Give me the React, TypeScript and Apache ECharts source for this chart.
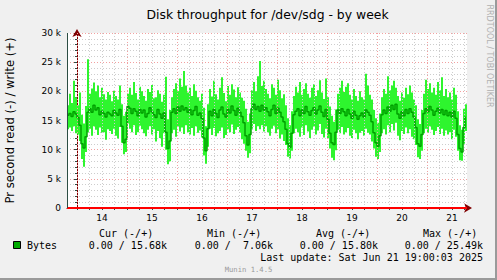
import React, { useEffect, useRef } from 'react';
import * as echarts from 'echarts';

// x axis: hours relative to Jun 14 2025 00:00, one value every 0.96 h
const startHour = -4.8;
const endHour = 187.2;
const stepHours = 0.96;

const dayLabels = ['14', '15', '16', '17', '18', '19', '20', '21'];
const dayNoonHours = [12, 36, 60, 84, 108, 132, 156, 180];
const midnightHours = [0, 24, 48, 72, 96, 120, 144, 168];
const sixHourLines = [6, 12, 18, 30, 36, 42, 54, 60, 66, 78, 84, 90, 102, 108, 114, 126, 132, 138, 150, 156, 162, 174, 180, 186];
const sixHourTicks = [0, 6, 12, 18, 24, 30, 36, 42, 48, 54, 60, 66, 72, 78, 84, 90, 96, 102, 108, 114, 120, 126, 132, 138, 144, 150, 156, 162, 168, 174, 180, 186];

// values in k (bytes per second, write)
const avgValues = [
  15.9, 16.2, 15.7, 16.5, 16.1, 15.5, 14.2, 11.0, 10.3, 12.2,
  16.4, 17.0, 16.4, 17.6, 16.8, 17.2, 16.0, 16.6, 16.2, 15.6,
  16.4, 16.1, 15.8, 16.7, 16.3, 15.9, 16.9, 14.0, 11.2, 11.8,
  17.4, 17.1, 16.2, 17.0, 16.6, 15.8, 16.9, 16.3, 16.8, 15.6,
  16.2, 17.2, 16.5, 16.0, 15.5, 16.9, 16.1, 15.4, 16.3, 13.0,
  10.2, 11.5, 16.4, 17.0, 16.2, 17.3, 16.6, 17.5, 16.8, 17.2,
  16.4, 16.9, 16.0, 16.7, 17.4, 15.9, 16.3, 15.4, 12.0, 9.8,
  13.6, 16.6, 15.8, 16.9, 16.2, 15.5, 16.8, 17.3, 16.1, 15.6,
  16.9, 16.3, 17.5, 16.7, 15.9, 17.1, 16.4, 15.7, 14.6, 12.4,
  10.8, 12.6, 17.0, 17.8, 16.9, 17.4, 16.6, 17.6, 16.8, 17.2,
  16.5, 15.8, 16.9, 17.6, 16.2, 17.1, 16.4, 15.6, 14.8, 13.5,
  11.0, 10.4, 12.8, 16.0, 16.6, 17.0, 15.8, 16.8, 16.2, 17.4,
  16.5, 15.9, 16.7, 17.2, 16.1, 16.8, 17.5, 16.4, 15.7, 16.9,
  15.2, 12.8, 11.2, 10.9, 13.0, 16.8, 16.2, 17.0, 16.5, 15.8,
  16.9, 16.1, 15.4, 16.6, 15.9, 15.2, 15.8, 16.3, 15.6, 16.8,
  16.4, 15.9, 14.8, 12.9, 11.2, 10.6, 12.4, 16.0, 16.8, 16.2,
  17.3, 16.6, 17.6, 16.9, 17.8, 16.1, 15.4, 16.5, 15.8, 16.9,
  16.2, 17.0, 16.4, 15.6, 13.8, 11.0, 10.6, 12.6, 16.2, 17.0,
  16.5, 17.4, 16.8, 15.9, 16.6, 17.1, 16.3, 16.9, 16.0, 16.7,
  15.8, 16.4, 15.6, 16.6, 15.4, 12.6, 10.2, 9.6, 13.8, 15.7,
];

const minValues = [
  13.5, 13.8, 13.2, 14.0, 12.8, 12.6, 11.5, 8.4, 7.06, 9.6,
  13.0, 13.6, 12.4, 14.0, 13.4, 12.5, 13.8, 12.9, 13.0, 11.7,
  13.5, 13.2, 12.7, 13.6, 12.4, 11.9, 13.9, 11.2, 9.2, 9.6,
  14.5, 13.6, 13.0, 14.2, 12.5, 13.0, 14.1, 13.5, 12.8, 12.3,
  13.4, 14.0, 12.6, 13.5, 11.4, 13.2, 12.0, 10.5, 12.8, 10.0,
  7.5, 8.0, 12.8, 13.4, 12.2, 14.0, 13.1, 13.8, 12.7, 14.2,
  13.0, 12.6, 13.7, 12.4, 14.0, 12.9, 13.3, 12.1, 9.0, 7.6,
  10.5, 13.6, 12.5, 13.7, 12.3, 12.8, 13.2, 13.8, 12.0, 12.5,
  13.5, 13.0, 14.3, 12.7, 13.4, 13.9, 12.9, 11.8, 11.0, 9.8,
  8.6, 9.4, 13.6, 14.4, 13.2, 14.0, 13.5, 14.2, 13.1, 14.0,
  13.0, 12.4, 13.6, 14.1, 12.8, 13.5, 11.9, 12.6, 11.5, 10.8,
  8.8, 8.5, 9.8, 12.8, 13.6, 13.0, 12.2, 13.8, 12.5, 14.2,
  13.1, 12.0, 13.4, 14.0, 12.6, 13.3, 14.4, 12.7, 12.1, 13.6,
  12.0, 10.2, 8.6, 8.2, 9.9, 13.4, 12.8, 13.9, 12.6, 13.0,
  13.7, 12.4, 12.0, 13.4, 12.8, 11.8, 12.9, 13.2, 12.4, 13.6,
  12.9, 12.6, 11.4, 10.2, 8.8, 8.4, 9.6, 12.8, 13.5, 12.6,
  14.2, 13.0, 14.4, 13.3, 14.6, 12.4, 11.6, 13.2, 12.7, 13.8,
  12.8, 13.5, 12.2, 11.8, 10.8, 8.7, 8.4, 9.8, 12.8, 13.6,
  12.9, 14.0, 13.4, 12.5, 13.2, 13.9, 12.7, 13.6, 12.4, 13.3,
  12.6, 13.0, 11.8, 13.4, 12.2, 9.8, 8.2, 8.1, 11.0, 13.2,
];

const maxValues = [
  17.6, 19.6, 18.0, 21.8, 19.0, 17.6, 19.8, 16.0, 14.5, 17.5,
  25.49, 19.6, 20.5, 21.5, 20.0, 21.0, 19.0, 20.6, 19.5, 18.6,
  19.9, 19.4, 18.3, 20.1, 19.2, 18.6, 21.0, 17.8, 15.8, 16.5,
  19.6, 20.6, 19.4, 21.6, 19.7, 18.6, 20.8, 20.0, 19.2, 18.4,
  20.4, 19.9, 21.1, 18.8, 19.0, 20.2, 19.6, 18.2, 19.4, 22.5,
  15.2, 16.8, 19.0, 20.4, 21.4, 20.0, 22.2, 20.8, 23.5, 21.0,
  19.8, 20.6, 19.2, 21.2, 20.1, 19.0, 18.4, 19.6, 17.2, 14.0,
  17.8, 20.4, 19.1, 21.8, 19.5, 18.6, 20.6, 22.4, 19.7, 18.3,
  20.9, 19.4, 21.2, 20.3, 19.0, 20.7, 19.8, 18.9, 18.4, 17.0,
  14.8, 16.2, 20.2, 21.6, 20.0, 22.6, 25.2, 20.9, 21.8, 20.4,
  19.6, 18.8, 21.2, 20.6, 19.4, 22.0, 20.2, 18.8, 19.5, 17.6,
  15.4, 14.2, 16.6, 19.2, 20.8, 19.8, 21.6, 19.4, 20.4, 21.4,
  19.6, 18.9, 20.6, 21.2, 19.2, 20.2, 21.9, 19.8, 18.7, 22.2,
  19.0, 17.4, 15.8, 14.8, 16.9, 19.6, 20.6, 21.8, 19.9, 20.8,
  21.4, 19.4, 18.6, 20.4, 19.2, 18.4, 20.0, 19.0, 18.6, 23.0,
  21.0, 19.4, 18.6, 16.8, 15.4, 14.6, 16.2, 19.0, 20.4, 19.6,
  22.6, 20.2, 21.0, 21.8, 20.6, 19.2, 18.4, 19.8, 18.9, 20.6,
  19.5, 21.0, 19.8, 18.6, 17.6, 15.2, 14.4, 16.8, 19.6, 22.0,
  20.4, 21.4, 19.8, 20.6, 19.4, 21.6, 20.2, 22.4, 19.2, 20.4,
  19.0, 19.8, 18.6, 20.6, 19.4, 16.6, 14.2, 13.4, 17.0, 17.8,
];

const legendHeaders = ['Cur (-/+)', 'Min (-/+)', 'Avg (-/+)', 'Max (-/+)'];
const legendValues = ['0.00 / 15.68k', '0.00 /  7.06k', '0.00 / 15.80k', '0.00 / 25.49k'];
const seriesName = 'Bytes';
const titleText = 'Disk throughput for /dev/sdg - by week';
const yAxisName = 'Pr second read (-) / write (+)';
const lastUpdate = 'Last update: Sat Jun 21 19:00:03 2025';
const version = 'Munin 1.4.5';
const sideText = 'RRDTOOL / TOBI OETIKER';

const SANS = 'DejaVu Sans, sans-serif';
const MONO = 'DejaVu Sans Mono, monospace';

function txt(text: string, x: number, y: number, font: string, align: string, fill = '#000') {
  return {
    type: 'text',
    x,
    y,
    silent: true,
    style: { text, font, fill, textAlign: align, align, textVerticalAlign: 'middle', verticalAlign: 'middle' },
  };
}

export default function App() {
  const ref = useRef<HTMLDivElement>(null);

  useEffect(() => {
    if (!ref.current) return;
    const chart = echarts.init(ref.current, undefined, { renderer: 'svg' });

    const xs = avgValues.map((_, i) => startHour + i * stepHours);
    const bandData = maxValues.map((v, i) => [xs[i], minValues[i], v]);
    const avgData = avgValues.map((v, i) => [xs[i], v]);

    const headerX = [99, 207, 316, 423];
    const valueRight = [167, 273, 378, 483];

    const option: any = {
      animation: false,
      backgroundColor: '#f0f0f0',
      grid: {
        left: 67,
        right: 30,
        top: 33,
        bottom: 72,
        show: true,
        backgroundColor: '#ffffff',
        borderWidth: 0,
        containLabel: false,
        outerBoundsMode: 'none',
      },
      xAxis: {
        type: 'value',
        min: startHour,
        max: endHour,
        axisLine: {
          show: true,
          onZero: false,
          lineStyle: { color: '#800000', width: 1 },
          symbol: ['none', 'arrow'],
          symbolSize: [7, 8],
          symbolOffset: [0, 5],
        },
        axisTick: { show: true, customValues: sixHourTicks, length: 2, lineStyle: { color: '#2c4d43' } },
        axisLabel: {
          customValues: dayNoonHours,
          formatter: (v: number) => {
            const k = dayNoonHours.indexOf(Math.round(v));
            return k >= 0 ? dayLabels[k] : '';
          },
          fontFamily: SANS,
          fontSize: 9,
          color: '#000',
          margin: 5,
        },
        splitLine: { show: false },
      },
      yAxis: {
        type: 'value',
        min: 0,
        max: 30,
        interval: 5,
        axisLine: {
          show: true,
          lineStyle: { color: '#800000', width: 1 },
          symbol: ['none', 'arrow'],
          symbolSize: [7, 8],
          symbolOffset: [0, 4],
        },
        axisTick: { show: true, length: 3, lineStyle: { color: '#2c4d43' } },
        minorTick: { show: true, splitNumber: 5, length: 2, lineStyle: { color: '#2c4d43' } },
        axisLabel: {
          formatter: (v: number) => (v === 0 ? '0' : v + ' k'),
          fontFamily: SANS,
          fontSize: 9,
          color: '#000',
          margin: 6,
        },
        splitLine: { show: true, lineStyle: { color: '#f2a0a0', type: [1, 2], width: 1 } },
        minorSplitLine: { show: true, lineStyle: { color: '#cdcdcd', type: [1, 2], width: 1 } },
        name: yAxisName,
        nameLocation: 'middle',
        nameRotate: 90,
        nameGap: 51,
        nameMoveOverlap: false,
        nameTextStyle: { fontFamily: SANS, fontSize: 11.6, color: '#000' },
      },
      series: [
        {
          type: 'line',
          name: 'grid',
          data: [],
          z: 1,
          silent: true,
          markLine: {
            silent: true,
            symbol: ['none', 'none'],
            label: { show: false },
            emphasis: { disabled: true },
            data: [
              ...sixHourLines.map((h) => ({ xAxis: h, lineStyle: { color: '#cdcdcd', type: [1, 2], width: 1 } })),
              ...midnightHours.map((h) => ({ xAxis: h, lineStyle: { color: '#f2a0a0', type: [1, 2], width: 1 } })),
            ],
          },
        },
        {
          type: 'custom',
          name: 'range',
          data: bandData,
          encode: { x: 0, y: [1, 2] },
          z: 2,
          silent: true,
          renderItem: (params: any, api: any) => {
            const x0 = api.value(0);
            const lo = api.value(1);
            const hi = api.value(2);
            const p1 = api.coord([x0, hi]);
            const p2 = api.coord([x0 + stepHours, lo]);
            return {
              type: 'rect',
              shape: { x: p1[0], y: p1[1], width: p2[0] - p1[0], height: p2[1] - p1[1] },
              style: { fill: '#2ef52e' },
            };
          },
        },
        {
          type: 'line',
          name: seriesName,
          data: avgData,
          step: 'end',
          symbol: 'none',
          lineStyle: { color: '#00a000', width: 1.5 },
          z: 3,
          silent: true,
        },
        {
          type: 'line',
          name: 'axes',
          data: [],
          z: 5,
          silent: true,
          markLine: {
            silent: true,
            symbol: ['none', 'none'],
            label: { show: false },
            emphasis: { disabled: true },
            data: [
              { yAxis: 0, lineStyle: { color: '#ff0000', type: 'solid', width: 2 } },
              { xAxis: startHour, lineStyle: { color: '#2c4d43', type: 'solid', width: 1 } },
            ],
          },
        },
      ],
      graphic: [
        { type: 'rect', silent: true, shape: { x: 0, y: 278, width: 497, height: 2 }, style: { fill: '#9a9a9a' } },
        { type: 'rect', silent: true, shape: { x: 495, y: 0, width: 2, height: 280 }, style: { fill: '#9a9a9a' } },
        txt(titleText, 267.5, 14, `12.4px ${SANS}`, 'center'),
        {
          type: 'text',
          x: 489,
          y: 56,
          rotation: -Math.PI / 2,
          silent: true,
          style: {
            text: sideText,
            font: `8px ${SANS}`,
            fill: '#b0b0b0',
            textAlign: 'center',
            align: 'center',
            textVerticalAlign: 'middle',
            verticalAlign: 'middle',
          },
        },
        ...legendHeaders.map((h, i) => txt(h, headerX[i], 233, `10px ${MONO}`, 'left')),
        ...legendValues.map((v, i) => txt(v, valueRight[i], 245, `10px ${MONO}`, 'right')),
        { type: 'rect', silent: true, shape: { x: 13.5, y: 241.5, width: 7, height: 7 }, style: { fill: '#00aa00', stroke: '#000', lineWidth: 1 } },
        txt(seriesName, 27, 245, `10px ${MONO}`, 'left'),
        txt(lastUpdate, 483, 257, `10px ${MONO}`, 'right'),
        txt(version, 248.5, 269, `7.2px ${MONO}`, 'center', '#9a9a9a'),
      ],
    };

    chart.setOption(option);
    return () => chart.dispose();
  }, []);

  return <div ref={ref} style={{ position: 'fixed', left: 0, top: 0, width: 497, height: 280 }} />;
}
